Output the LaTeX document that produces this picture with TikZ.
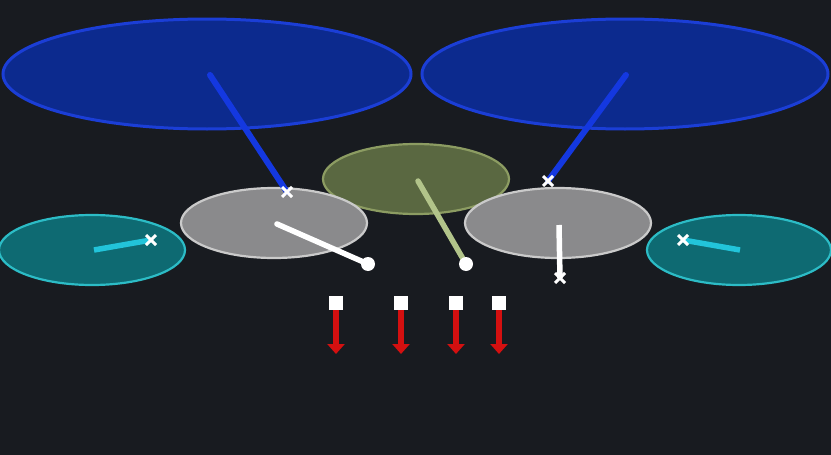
\documentclass[tikz,border=0pt]{standalone}
\usetikzlibrary{arrows.meta}
\definecolor{bg}{HTML}{181B20}
\definecolor{bluefill}{HTML}{0C2A8E}
\definecolor{blueedge}{HTML}{1B3ED6}
\definecolor{blueline}{HTML}{1438E0}
\definecolor{olivefill}{HTML}{5A6841}
\definecolor{oliveedge}{HTML}{8C9C62}
\definecolor{oliveline}{HTML}{B2C48A}
\definecolor{greyfill}{HTML}{8A8A8C}
\definecolor{greyedge}{HTML}{CACACA}
\definecolor{tealfill}{HTML}{0E6A72}
\definecolor{tealedge}{HTML}{2CBCC6}
\definecolor{tealline}{HTML}{22C4DA}
\definecolor{redline}{HTML}{D41010}
\tikzset{
  bigblue/.style={draw=blueedge, fill=bluefill, line width=3pt},
  olive/.style={draw=oliveedge, fill=olivefill, line width=2.2pt},
  grey/.style={draw=greyedge, fill=greyfill, line width=2.2pt},
  teal/.style={draw=tealedge, fill=tealfill, line width=2.2pt},
  xmark/.style={draw=white, line width=3pt},
  dotmark/.style={fill=white},
  bline/.style={draw=blueline, line width=6pt, line cap=round},
  wline/.style={draw=white, line width=5.5pt, line cap=round},
  oline/.style={draw=oliveline, line width=5.5pt, line cap=round},
  tline/.style={draw=tealline, line width=5.5pt},
  sq/.style={fill=white, minimum size=14pt, inner sep=0pt},
  rarrow/.style={draw=redline, line width=6pt, -{Triangle[length=10pt,width=17pt]}},
}
\newcommand{\xm}[1]{\draw[xmark] ([shift={(-5pt,-5pt)}]#1) -- ([shift={(5pt,5pt)}]#1) ([shift={(-5pt,5pt)}]#1) -- ([shift={(5pt,-5pt)}]#1);}
\begin{document}
\begin{tikzpicture}[x=1pt,y=-1pt]
\fill[bg] (0,0) rectangle (831,455);
\useasboundingbox (0,0) rectangle (831,455);
% ellipses
\path[bigblue] (207,74) ellipse [x radius=204, y radius=55];
\path[bigblue] (625,74) ellipse [x radius=203, y radius=55];
\path[olive] (416,179) ellipse [x radius=93, y radius=35];
\path[grey] (274,223) ellipse [x radius=93, y radius=35];
\path[grey] (558,223) ellipse [x radius=93, y radius=35];
\path[teal] (92,250) ellipse [x radius=93, y radius=35];
\path[teal] (739,250) ellipse [x radius=92, y radius=35];
% coordinates
\coordinate (b1s) at (210,75); \coordinate (b1e) at (287,192);
\coordinate (b2s) at (626,75); \coordinate (b2e) at (548,181);
\coordinate (w1s) at (277,224); \coordinate (w1e) at (368,264);
\coordinate (o1s) at (418,181); \coordinate (o1e) at (466,264);
\coordinate (w2s) at (559,225); \coordinate (w2e) at (560,278);
\coordinate (t1s) at (94,250); \coordinate (t1e) at (151,240);
\coordinate (t2s) at (740,250); \coordinate (t2e) at (683,240);
% lines
\draw[bline] (b1s) -- (b1e);
\draw[bline] (b2s) -- (b2e);
\draw[wline] (w1s) -- (w1e);
\draw[oline] (o1s) -- (o1e);
\draw[white, line width=5.5pt] (w2s) -- (w2e);
\draw[tline] (t1s) -- (t1e);
\draw[tline] (t2s) -- (t2e);
% end marks
\xm{b1e} \xm{b2e} \xm{w2e} \xm{t1e} \xm{t2e}
\fill[dotmark] (w1e) circle (7pt);
\fill[dotmark] (o1e) circle (7pt);
% red arrows
\foreach \i/\x in {1/336,2/401,3/456,4/499} {
  \node[sq] (s\i) at (\x,303) {};
  \coordinate (r\i) at (\x,354);
  \draw[rarrow] (s\i.south) -- (r\i);
}
\end{tikzpicture}
\end{document}
